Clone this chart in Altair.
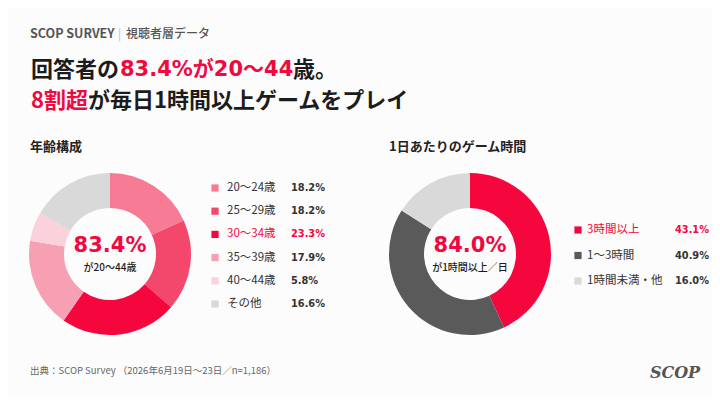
import altair as alt
import pandas as pd

# survey numbers (SCOP Survey, n=1,186)
age_labels = ["20〜24歳", "25〜29歳", "30〜34歳", "35〜39歳", "40〜44歳", "その他"]
age_values = [18.2, 18.2, 23.3, 17.9, 5.8, 16.6]
age_colors = ["#f77b94", "#f4476c", "#f5073e", "#f8a0b3", "#fbd1db", "#d9d9d9"]

time_labels = ["3時間以上", "1〜3時間", "1時間未満・他"]
time_values = [43.1, 40.9, 16.0]
time_colors = ["#f5073e", "#5a5a5a", "#d9d9d9"]

RED = "#f0093f"
DARK = "#1c1c1c"
JP = "Noto Sans CJK JP"
NUM = "DejaVu Sans"
MIX = "'DejaVu Sans', 'Noto Sans CJK JP'"
M = 8  # page margin, positions below are page pixels

age = pd.DataFrame({"label": age_labels, "value": age_values, "idx": range(len(age_labels))})
tm = pd.DataFrame({"label": time_labels, "value": time_values, "idx": range(len(time_labels))})

one = alt.Chart(pd.DataFrame({"k": [0]}))


def note(s, x, y, size, color=DARK, weight="normal", font=JP, align="left", style="normal"):
    return one.mark_text(text=s, fontSize=size, color=color, fontWeight=weight, font=font,
                         align=align, baseline="middle", fontStyle=style).encode(
        x=alt.value(x - M), y=alt.value(y - M))


def donut(df, colors, cx, cy):
    return alt.Chart(df).mark_arc(innerRadius=46, outerRadius=81).encode(
        theta=alt.Theta("value:Q", stack=True),
        color=alt.Color("label:N", sort=list(df["label"]),
                        scale=alt.Scale(domain=list(df["label"]), range=colors), legend=None),
        order=alt.Order("idx:Q"),
        x=alt.value(cx - M), y=alt.value(cy - M))


def legend(df, colors, hl, x_sq, x_lab, x_val, y0, y1):
    yenc = alt.Y("label:N", sort=list(df["label"]), axis=None,
                 scale=alt.Scale(type="point", range=[y0 - M, y1 - M], padding=0))
    tcol = alt.when(alt.datum.label == hl).then(alt.value(RED)).otherwise(alt.value("#333333"))
    sq = alt.Chart(df).mark_square(size=52, opacity=1).encode(
        y=yenc, x=alt.value(x_sq - M),
        color=alt.Color("label:N", scale=alt.Scale(domain=list(df["label"]), range=colors), legend=None))
    lab = alt.Chart(df).mark_text(align="left", baseline="middle", font=JP, fontSize=11.5).encode(
        y=yenc, x=alt.value(x_lab - M), text="label:N", color=tcol)
    val = alt.Chart(df).transform_calculate(
        txt="format(datum.value, '.1f') + '%'"
    ).mark_text(align="left", baseline="middle", font=NUM, fontWeight="bold", fontSize=9.8).encode(
        y=yenc, x=alt.value(x_val - M), text="txt:N", color=tcol)
    return [sq, lab, val]


layers = [
    note("SCOP SURVEY", 30, 34, 12.5, "#555555", "bold"),
    note("|", 118, 34, 12, "#bbbbbb"),
    note("視聴者層データ", 126, 34, 12, "#555555", 500),
    note("回答者の", 31, 70, 22, DARK, "bold"),
    note("83.4%が20〜44", 120, 70, 21, RED, "bold", MIX),
    note("歳。", 293, 70, 22, DARK, "bold"),
    note("8割超", 31, 101, 22, RED, "bold"),
    note("が毎日1時間以上ゲームをプレイ", 88, 101, 22, DARK, "bold"),
    note("年齢構成", 30, 147, 13, "#222222", "bold"),
    note("1日あたりのゲーム時間", 389, 147, 13, "#222222", "bold"),
    donut(age, age_colors, 110, 254),
    donut(tm, time_colors, 470, 254),
    note("83.4%", 110, 246, 21, RED, "bold", NUM, "center"),
    note("が20〜44歳", 110, 268, 10, DARK, 500, JP, "center"),
    note("84.0%", 470, 246, 21, RED, "bold", NUM, "center"),
    note("が1時間以上／日", 470, 268, 10, DARK, 500, JP, "center"),
    *legend(age, age_colors, "30〜34歳", 215, 227, 291, 188, 304),
    *legend(tm, time_colors, "3時間以上", 578, 587, 675, 230, 281),
    note("出典：SCOP Survey （2026年6月19日〜23日／n=1,186）", 30, 371, 9.5, "#666666"),
    note("SCOP", 675, 373, 16, "#555555", "bold", "DejaVu Serif", "center", "italic"),
]

chart = alt.layer(*layers).resolve_scale(
    x="independent", y="independent", color="independent", theta="independent"
).properties(
    width=704, height=389, padding=0,
    autosize=alt.AutoSizeParams(type="none"),
    background="#fdfcfd",
).configure_view(stroke=None)

chart.save("out.html", embed_options={"renderer": "svg", "actions": False})
